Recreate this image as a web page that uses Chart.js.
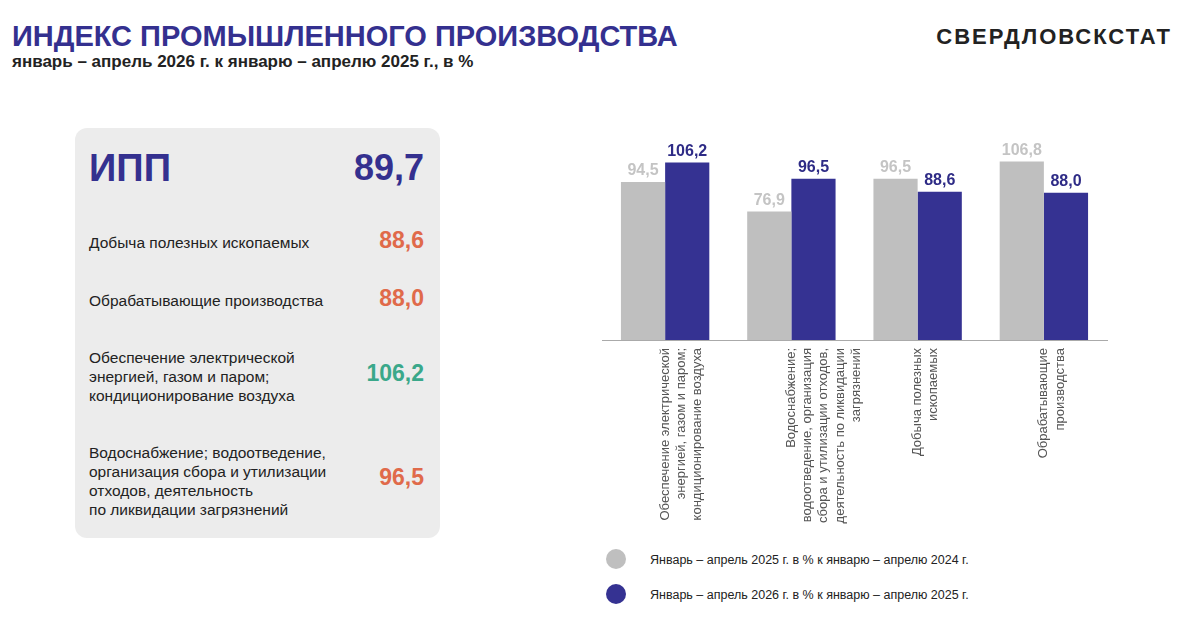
<!DOCTYPE html>
<html><head><meta charset="utf-8">
<script src="https://cdn.jsdelivr.net/npm/chart.js@4"></script>
<style>
body{margin:0;width:1184px;height:635px;background:#fff;font-family:"Liberation Sans",Arial,sans-serif;position:relative;overflow:hidden}
.t{position:absolute;left:12px;top:20px;font-size:29px;font-weight:bold;color:#34308f}
.st{position:absolute;left:12px;top:52px;font-size:17px;font-weight:bold;color:#222}
.brand{position:absolute;right:12px;top:24px;font-size:22px;font-weight:bold;letter-spacing:2px;color:#222}
.panel{position:absolute;left:75px;top:128px;width:365px;height:410px;background:#ececec;border-radius:12px}
.row{position:absolute;left:14px;right:16px;font-size:15.5px;color:#222;line-height:19px}
.row b{position:absolute;right:0;font-size:23px}
#wrap{position:absolute;left:600px;top:130px;width:510px;height:410px}
.lg{position:absolute;left:606px;font-size:12.5px;color:#222}
.lg i{position:absolute;left:0;top:-4px;width:20px;height:20px;border-radius:50%}
.lg span{position:absolute;left:44px;top:0;white-space:nowrap}
</style></head><body>
<div class="t">ИНДЕКС ПРОМЫШЛЕННОГО ПРОИЗВОДСТВА</div>
<div class="st">январь – апрель 2026 г. к январю – апрелю 2025 г., в %</div>
<div class="brand">СВЕРДЛОВСКСТАТ</div>
<div class="panel">
 <div class="row" style="top:20px;font-size:38px;font-weight:bold;color:#34308f;line-height:40px">ИПП<b style="font-size:36px;top:0">89,7</b></div>
 <div class="row" style="top:105px">Добыча полезных ископаемых<b style="color:#e06a4a;top:-2px">88,6</b></div>
 <div class="row" style="top:163px">Обрабатывающие производства<b style="color:#e06a4a;top:-2px">88,0</b></div>
 <div class="row" style="top:220px">Обеспечение электрической<br>энергией, газом и паром;<br>кондиционирование воздуха<b style="color:#3aa88a;top:16px">106,2</b></div>
 <div class="row" style="top:315px">Водоснабжение; водоотведение,<br>организация сбора и утилизации<br>отходов, деятельность<br>по ликвидации загрязнений<b style="color:#e06a4a;top:25px">96,5</b></div>
</div>
<div id="wrap"><canvas id="c"></canvas></div>
<div class="lg" style="top:553px"><i style="background:#bfbfbf"></i><span>Январь – апрель 2025 г. в % к январю – апрелю 2024 г.</span></div>
<div class="lg" style="top:588px"><i style="background:#353292"></i><span>Январь – апрель 2026 г. в % к январю – апрелю 2025 г.</span></div>
<script>
const categories = [
  ['Обеспечение электрической', 'энергией, газом и паром;', 'кондиционирование воздуха'],
  ['Водоснабжение;', 'водоотведение, организация', 'сбора и утилизации отходов,', 'деятельность по ликвидации', 'загрязнений'],
  ['Добыча полезных', 'ископаемых'],
  ['Обрабатывающие', 'производства']
];
const values2025 = [94.5, 76.9, 96.5, 106.8];
const values2026 = [106.2, 96.5, 88.6, 88.0];
const seriesNames = ['Январь – апрель 2025 г. в % к январю – апрелю 2024 г.', 'Январь – апрель 2026 г. в % к январю – апрелю 2025 г.'];

const valueLabels = {
  id: 'valueLabels',
  afterDatasetsDraw(chart) {
    const ctx = chart.ctx;
    ctx.save();
    ctx.font = 'bold 16px "Liberation Sans", Arial, sans-serif';
    ctx.textAlign = 'center';
    ctx.textBaseline = 'bottom';
    chart.data.datasets.forEach((ds, i) => {
      ctx.fillStyle = i === 0 ? '#c4c4c4' : '#2e2b86';
      chart.getDatasetMeta(i).data.forEach((bar, j) => {
        ctx.fillText(ds.data[j].toFixed(1).replace('.', ','), bar.x, bar.y - 3);
      });
    });
    ctx.restore();
  }
};

new Chart(document.getElementById('c').getContext('2d'), {
  type: 'bar',
  data: {
    labels: categories,
    datasets: [
      { label: seriesNames[0], data: values2025, backgroundColor: '#bfbfbf' },
      { label: seriesNames[1], data: values2026, backgroundColor: '#353292' }
    ]
  },
  options: {
    responsive: true,
    maintainAspectRatio: false,
    animation: false,
    layout: { padding: { left: 2, right: 3 } },
    datasets: { bar: { categoryPercentage: 0.7, barPercentage: 1 } },
    scales: {
      y: { display: false, min: 0, max: 125.6 },
      x: {
        afterFit: s => { s.height = 200; },
        grid: { display: false, drawTicks: false },
        border: { color: '#aaa' },
        ticks: {
          minRotation: 90, maxRotation: 90, padding: 8,
          color: '#555',
          font: { size: 13, lineHeight: 1.25, family: '"Liberation Sans", Arial, sans-serif' }
        }
      }
    },
    plugins: { legend: { display: false }, tooltip: { enabled: false } }
  },
  plugins: [valueLabels]
});
</script>
</body></html>
